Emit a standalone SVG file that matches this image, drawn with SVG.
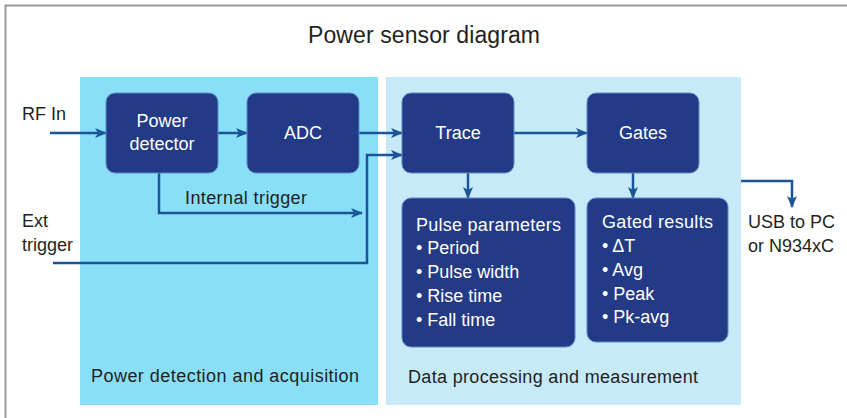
<svg xmlns="http://www.w3.org/2000/svg" width="847" height="418" viewBox="0 0 847 418">
<defs>
<style>
.node{fill:#233a86;stroke:#5f8cc8;stroke-width:1}
.nt{font-family:"Liberation Sans Narrow","Liberation Sans",Arial,sans-serif;font-size:18px;fill:#ffffff}
.lt{font-family:"Liberation Sans Narrow","Liberation Sans",Arial,sans-serif;font-size:18px;fill:#231f20}
.conn{fill:none;stroke:#1b5598;stroke-width:2.5}
.arr{marker-end:url(#ah)}
</style>
<marker id="ah" viewBox="0 0 12 10" refX="11" refY="5" markerWidth="12" markerHeight="10" markerUnits="userSpaceOnUse" orient="auto">
<path d="M0,0 L12,5 L0,10 L3,5 z" fill="#1b5598"/>
</marker>
</defs>
<rect width="847" height="418" fill="#ffffff"/>
<path d="M5.5,418 V5.5 H847" fill="none" stroke="#9a9a9a" stroke-width="2"/>
<text x="308" y="43" class="lt" style="font-size:23px" textLength="232">Power sensor diagram</text>

<g id="panel-acquisition">
<rect x="80" y="77" width="298" height="328" fill="#89dff7"/>
<text x="91" y="382" class="lt" textLength="268">Power detection and acquisition</text>
</g>
<g id="panel-processing">
<rect x="386" y="77" width="355" height="328" fill="#c7eaf9"/>
<text x="408" y="383" class="lt" textLength="290">Data processing and measurement</text>
</g>

<g id="connectors">
<path class="conn arr" d="M50,133 H106"/>
<path class="conn arr" d="M218,133 H247"/>
<path class="conn arr" d="M359,133 H402"/>
<path class="conn arr" d="M159,173 V213 H362"/>
<path class="conn arr" d="M53,263 H367 V155 H402"/>
<path class="conn arr" d="M514,133 H587"/>
<path class="conn arr" d="M468,173 V198"/>
<path class="conn arr" d="M633,173 V198"/>
<path class="conn arr" d="M741,181 H792 V207"/>
</g>

<g id="label-rfin"><text x="22" y="120" class="lt">RF In</text></g>
<g id="label-ext"><text x="22" y="227" class="lt">Ext</text><text x="22" y="251" class="lt">trigger</text></g>
<g id="label-internal"><text x="185" y="204" class="lt" textLength="122">Internal trigger</text></g>
<g id="label-usb"><text x="748" y="228" class="lt">USB to PC</text><text x="748" y="252" class="lt">or N934xC</text></g>

<g id="node-power-detector">
<rect class="node" x="106" y="93" width="112" height="80" rx="9"/>
<text x="162" y="127" class="nt" text-anchor="middle">Power</text>
<text x="162" y="150" class="nt" text-anchor="middle">detector</text>
</g>
<g id="node-adc">
<rect class="node" x="247" y="93" width="112" height="80" rx="9"/>
<text x="303" y="139" class="nt" text-anchor="middle">ADC</text>
</g>
<g id="node-trace">
<rect class="node" x="402" y="93" width="112" height="80" rx="9"/>
<text x="458" y="139" class="nt" text-anchor="middle">Trace</text>
</g>
<g id="node-gates">
<rect class="node" x="587" y="93" width="112" height="80" rx="9"/>
<text x="643" y="139" class="nt" text-anchor="middle">Gates</text>
</g>
<g id="node-pulse-parameters">
<rect class="node" x="402" y="198" width="173" height="149" rx="9"/>
<text x="416" y="231" class="nt" textLength="145">Pulse parameters</text>
<text x="416" y="254" class="nt">• Period</text>
<text x="416" y="278" class="nt">• Pulse width</text>
<text x="416" y="302" class="nt">• Rise time</text>
<text x="416" y="326" class="nt">• Fall time</text>
</g>
<g id="node-gated-results">
<rect class="node" x="587" y="198" width="141" height="144" rx="9"/>
<text x="602" y="228" class="nt" textLength="111">Gated results</text>
<text x="602" y="252" class="nt">• ΔT</text>
<text x="602" y="276" class="nt">• Avg</text>
<text x="602" y="300" class="nt">• Peak</text>
<text x="602" y="323" class="nt">• Pk-avg</text>
</g>
</svg>
